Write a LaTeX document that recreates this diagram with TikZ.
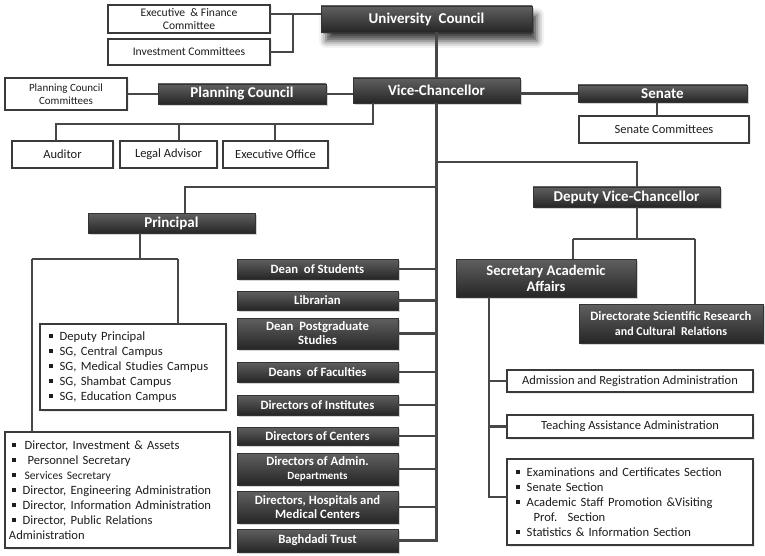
\documentclass[tikz,border=0pt]{standalone}
\usepackage{fontspec}
\setmainfont{Carlito}
\usetikzlibrary{shadows,shadows.blur}
\definecolor{lc}{HTML}{474747}
\definecolor{bc}{HTML}{3A3A3A}
\definecolor{tc}{HTML}{1E1E1E}
\definecolor{dtop}{HTML}{606060}
\definecolor{dbot}{HTML}{262626}
\newcommand\sqb{\raisebox{0.18em}{\rule{0.3em}{0.3em}}\hspace{0.55em}}
\newcommand\bx[6]{\node[#1, minimum width={#4pt-#2pt}, minimum height={#5pt-#3pt}] (#6) at ({(#2+#4)/2},{(#3+#5)/2})}
\tikzset{
  dbox/.style={rectangle, inner sep=0pt, outer sep=0pt, draw=black!80, line width=0.4pt,
    top color=dtop, bottom color=dbot, text=white, align=center,
    font=\fontsize{12.7}{14}\selectfont\bfseries,
    drop shadow={shadow xshift=2pt, shadow yshift=-2pt, opacity=0.35}},
  bigbox/.style={dbox, font=\fontsize{15}{16}\selectfont\bfseries},
  wbox/.style={rectangle, inner sep=0pt, outer sep=0pt, draw=bc, line width=1.4pt, fill=white,
    text=tc, align=center, font=\fontsize{12.5}{13.5}\selectfont,
    drop shadow={shadow xshift=1.5pt, shadow yshift=-1.5pt, opacity=0.15}},
  lbox/.style={wbox, align=left, inner xsep=6pt, font=\fontsize{12.6}{15}\selectfont},
  conn/.style={draw=lc, line width=2.2pt},
}
\begin{document}
\begin{tikzpicture}[x=1pt,y=-1pt]
\useasboundingbox (0,0) rectangle (765,556);
% top
\bx{wbox, font=\fontsize{11.6}{12.5}\selectfont}{108}{5}{270}{33}{ef} {Executive \ \& Finance\\Committee};
\bx{wbox, font=\fontsize{11.6}{12.5}\selectfont}{108}{39}{270}{65}{inv} {Investment Committees};
\bx{bigbox, drop shadow={opacity=0}, blur shadow={shadow xshift=5pt, shadow yshift=-9pt, shadow blur radius=7pt, shadow opacity=75}}{321}{6}{532}{32}{uc} {University \ Council};
\bx{wbox, font=\fontsize{11}{12.5}\selectfont}{5}{78}{127}{110}{pcc} {Planning Council\\Committees};
\bx{bigbox}{158}{84}{326}{104}{pc} {Planning Council};
\bx{bigbox}{353}{78}{520}{103}{vc} {Vice-Chancellor};
\bx{bigbox}{578}{85}{747}{102}{sen} {Senate};
\bx{wbox}{579}{116}{749}{143}{senc} {Senate Committees};
\bx{wbox}{12}{141}{113}{168}{aud} {Auditor};
\bx{wbox}{120}{141}{217}{168}{leg} {Legal Advisor};
\bx{wbox}{223}{141}{328}{168}{exo} {Executive Office};
% second level
\bx{bigbox}{88}{213}{255}{233}{pri} {Principal};
\bx{bigbox}{533}{187}{720}{207}{dvc} {Deputy Vice-Chancellor};
\bx{dbox, font=\fontsize{14.6}{16}\selectfont\bfseries}{456}{259}{636}{297}{saa} {Secretary Academic\\Affairs};
\bx{dbox, font=\fontsize{12.8}{15}\selectfont\bfseries}{579}{304}{763}{343}{dsr} {Directorate Scientific Research\\{\fontsize{12}{13}\selectfont and Cultural \ Relations}};
% middle column
\bx{dbox}{237}{259}{398}{279}{dos} {Dean \ of Students};
\bx{dbox}{237}{291}{398}{310}{lib} {Librarian};
\bx{dbox}{237}{318}{398}{349}{dps} {Dean \ Postgraduate\\Studies};
\bx{dbox}{237}{362}{398}{382}{dof} {Deans \ of Faculties};
\bx{dbox}{237}{395}{398}{415}{doi} {Directors of Institutes};
\bx{dbox}{237}{427}{398}{445}{doc} {Directors of Centers};
\bx{dbox}{237}{453}{398}{485}{dad} {Directors of Admin.\\{\fontsize{11}{12.5}\selectfont Departments}};
\bx{dbox}{237}{491}{398}{523}{dhm} {Directors, Hospitals and\\Medical Centers};
\bx{dbox}{237}{529}{398}{552}{bgt} {Baghdadi Trust};
% lists
\bx{lbox, text width=168pt, inner xsep=9pt}{42}{324}{224}{410}{dpl}
  {\sqb Deputy Principal\\\sqb SG, Central Campus\\\sqb SG, Medical Studies Campus\\\sqb SG, Shambat Campus\\\sqb SG, Education Campus};
\bx{lbox, text width=217pt, inner xsep=4pt}{5}{432}{230}{548}{dir}
  {\hspace*{3pt}\sqb\hspace{2pt}Director, Investment \& Assets\\
   \hspace*{3pt}\sqb\hspace{5pt}Personnel Secretary\\
   \hspace*{3pt}\sqb\hspace{2pt}{\fontsize{11.5}{15}\selectfont Services Secretary}\\
   \hspace*{3pt}\sqb Director, Engineering Administration\\
   \hspace*{3pt}\sqb Director, Information Administration\\
   \hspace*{3pt}\sqb Director, Public Relations\\
   Administration};
\bx{wbox}{507}{370}{753}{392}{adm} {Admission and Registration Administration};
\bx{wbox}{507}{415}{753}{438}{tea} {Teaching Assistance Administration};
\bx{lbox, text width=234pt, inner xsep=6pt}{507}{459}{753}{545}{exm}
  {\hspace*{3pt}\sqb Examinations and Certificates Section\\
   \hspace*{3pt}\sqb Senate Section\\
   \hspace*{3pt}\sqb Academic Staff Promotion \&Visiting\\
   \hspace*{3pt}\hspace{0.85em}\hspace{0.55em}Prof. \ Section\\
   \hspace*{3pt}\sqb Statistics \& Information Section};
% junction points
\coordinate (ucj) at (293,14);
\coordinate (vcb) at (373,124);
\coordinate (aj) at (56,124);
\coordinate (lj) at (179,124);
\coordinate (ej) at (275,124);
\coordinate (dj) at (637,162);
\coordinate (pj) at (185,187);
\coordinate (pm) at (140,259);
\coordinate (pl) at (32,259);
\coordinate (pr) at (178,259);
\coordinate (dv) at (637,239);
\coordinate (sl) at (573,239);
\coordinate (sr) at (695,239);
\coordinate (sa) at (489,497);
% connectors
\draw[conn] (ef.east |- ucj) -- (uc.west |- ucj);
\draw[conn] (ucj) |- (inv.east);
\draw[conn] (vc.north) -- (vc.north |- uc.south);
\draw[conn] (pcc.east) -- (pc.west);
\draw[conn] (pc.east) -- (vc.west |- pc.east);
\draw[conn] (vc.east |- sen.west) -- (sen.west);
\draw[conn] (sen.south -| 657,0) -- (senc.north -| 657,0);
\draw[conn] (vc.south -| vcb) -- (vcb) -- (aj) -- (aud.north -| aj);
\draw[conn] (lj) -- (leg.north -| lj);
\draw[conn] (ej) -- (exo.north -| ej);
\draw[conn] (vc.south) -- (vc.south |- bgt.east) -- (bgt.east);
\draw[conn] (vc.south |- dj) -- (dj) -- (dvc.north -| dj);
\draw[conn] (vc.south |- pj) -- (pj) -- (pri.north -| pj);
\draw[conn] (pri.south -| pm) -- (pm);
\draw[conn] (pl) -- (pr);
\draw[conn] (pr) -- (dpl.north -| pr);
\draw[conn] (pl) -- (dir.north -| pl);
\foreach \n in {dos,lib,dps,dof,doi,doc,dad,dhm}{
  \draw[conn] (\n.east) -- (\n.east -| vc.south);
}
\draw[conn] (dvc.south -| dv) -- (dv);
\draw[conn] (sl) -- (sr);
\draw[conn] (sl) -- (saa.north -| sl);
\draw[conn] (sr) -- (dsr.north -| sr);
\draw[conn] (saa.south -| sa) -- (sa) -- (exm.west |- sa);
\draw[conn] (adm.west) -- (adm.west -| sa);
\draw[conn] (tea.west) -- (tea.west -| sa);
\end{tikzpicture}
\end{document}
